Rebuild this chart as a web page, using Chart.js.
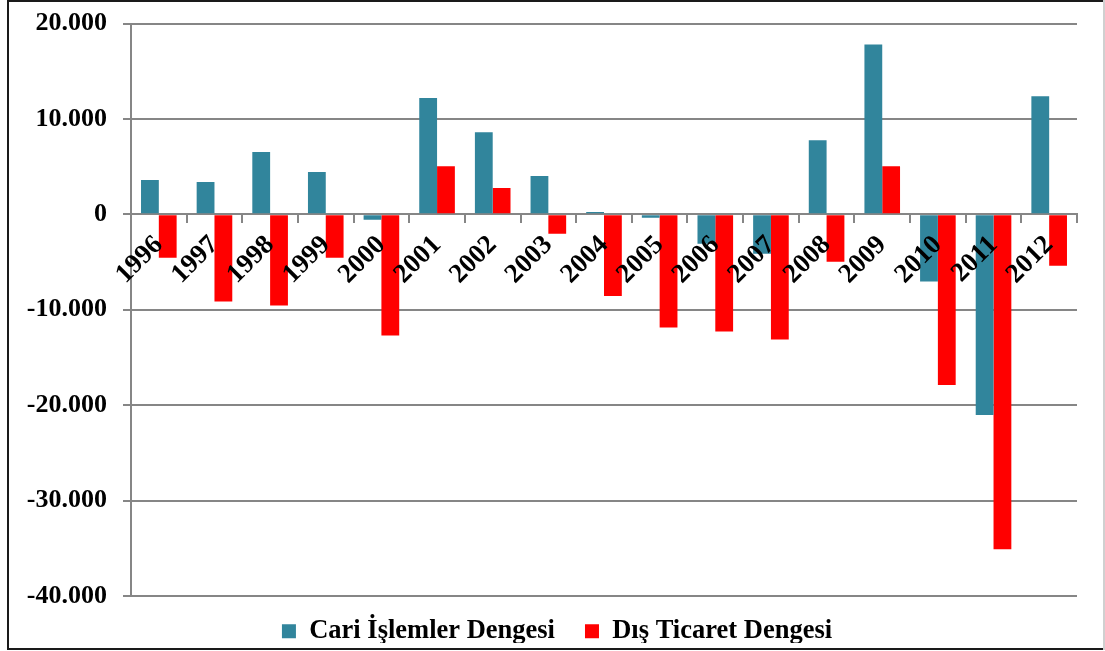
<!DOCTYPE html>
<html>
<head>
<meta charset="utf-8">
<script src="https://cdn.jsdelivr.net/npm/chart.js@4.4.1/dist/chart.umd.min.js"></script>
<style>
  html, body { margin: 0; padding: 0; background: #fff; }
  #wrap { width: 1105px; height: 651px; position: relative; }
</style>
</head>
<body>
<div id="wrap"><canvas id="c" width="1105" height="651"></canvas></div>
<script>
const years = ['1996','1997','1998','1999','2000','2001','2002','2003','2004','2005','2006','2007','2008','2009','2010','2011','2012'];
const cariIslemler = [3590, 3380, 6520, 4430, -560, 12200, 8610, 4010, 240, -350, -3070, -4120, 7770, 17810, -7050, -21040, 12370];
const disTicaret = [-4540, -9140, -9560, -4540, -12700, 5050, 2750, -2030, -8550, -11860, -12280, -13120, -4960, 5050, -17890, -35100, -5380];
const seriesNames = ['Cari İşlemler Dengesi', 'Dış Ticaret Dengesi'];
const yMin = -40000, yMax = 20000, yStep = 10000;

const frame = {
  id: 'frame',
  afterLayout(chart) {
    const L = chart.legend;
    if (L) { L.top -= 8; L.bottom -= 8; L.left += 18.5; L.right += 18.5; }
  },
  afterDraw(chart) {
    const ctx = chart.ctx;
    ctx.save();
    ctx.strokeStyle = '#1a1a1a';
    ctx.lineWidth = 2;
    ctx.beginPath();
    ctx.moveTo(1103, 1); ctx.lineTo(8, 1); ctx.lineTo(8, 649); ctx.lineTo(1103, 649);
    ctx.stroke();
    ctx.strokeStyle = '#d0d0d0';
    ctx.beginPath();
    ctx.moveTo(1104, 0); ctx.lineTo(1104, 650);
    ctx.stroke();
    ctx.restore();
  }
};

const fontFam = '"Liberation Serif", "Times New Roman", serif';
new Chart(document.getElementById('c'), {
  type: 'bar',
  data: {
    labels: years,
    datasets: [
      { label: seriesNames[0], data: cariIslemler, backgroundColor: '#31859C' },
      { label: seriesNames[1], data: disTicaret, backgroundColor: '#FF0000' }
    ]
  },
  options: {
    responsive: false,
    animation: false,
    categoryPercentage: 0.64,
    barPercentage: 1.0,
    layout: { padding: { top: 23.5, right: 28, left: 0, bottom: 0 } },
    plugins: {
      legend: {
        position: 'bottom',
        maxHeight: 55,
        labels: {
          color: '#000',
          font: { family: fontFam, size: 26.5, weight: 'bold' },
          boxWidth: 14, boxHeight: 14, padding: 30
        }
      },
      tooltip: { enabled: false }
    },
    scales: {
      x: {
        position: { y: 0 },
        afterFit(scale) { scale.paddingLeft = 0; scale.paddingRight = 0; },
        grid: { drawOnChartArea: false, drawTicks: true, tickLength: 8, color: '#868686', lineWidth: 2 },
        border: { color: '#868686', width: 2 },
        ticks: {
          z: 1,
          color: '#000', minRotation: 45, maxRotation: 45, padding: 7, autoSkip: false,
          font: { family: fontFam, size: 27, weight: 'bold' }
        }
      },
      y: {
        min: yMin, max: yMax,
        afterFit(scale) { scale.width = 131; scale.paddingTop = 0; scale.paddingBottom = 0; },
        grid: { color: '#868686', lineWidth: 2, tickLength: 8 },
        border: { color: '#868686', width: 2 },
        ticks: {
          stepSize: yStep, color: '#000', padding: 16,
          font: { family: fontFam, size: 26, weight: 'bold' },
          callback: v => (v < 0 ? '-' : '') + Math.abs(v).toLocaleString('de-DE')
        }
      }
    }
  },
  plugins: [frame]
});
</script>
</body>
</html>
